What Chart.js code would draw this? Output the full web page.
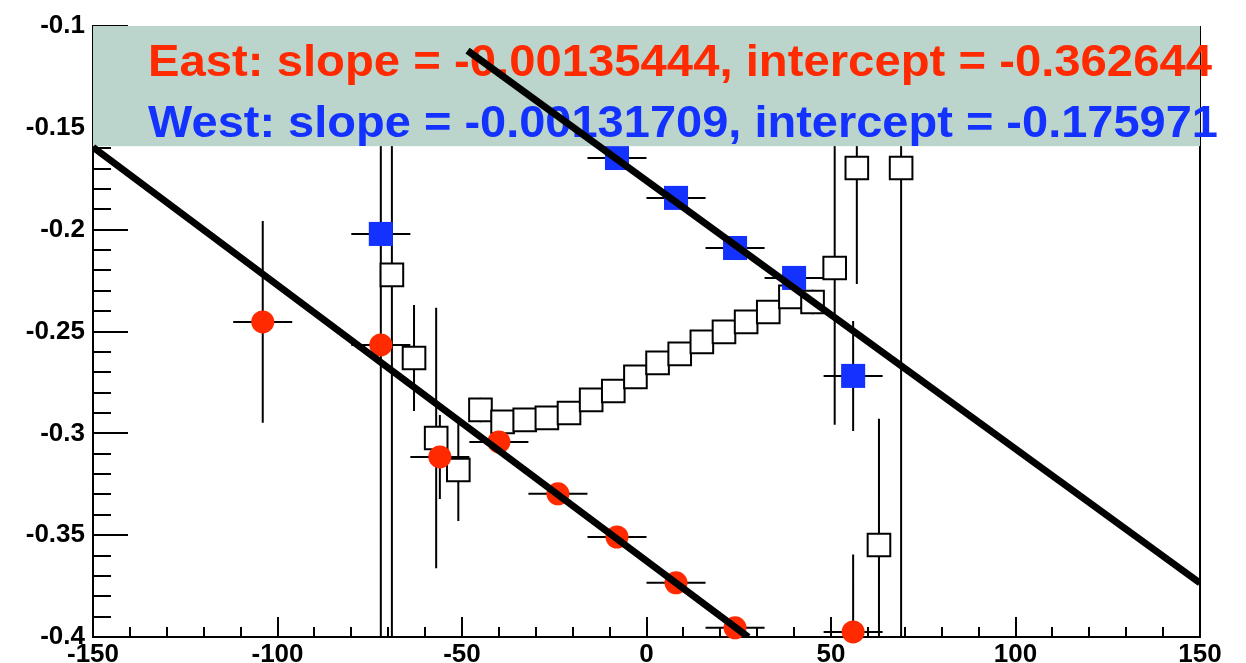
<!DOCTYPE html>
<html>
<head>
<meta charset="utf-8">
<script src="https://cdn.jsdelivr.net/npm/chart.js@4"></script>
<style>
html, body { margin: 0; padding: 0; background: #fff; }
</style>
</head>
<body>
<canvas id="chart" width="1246" height="663"></canvas>
<script>
// axis ticks
const xTicks = [-150, -100, -50, 0, 50, 100, 150];
const yTicks = [-0.4, -0.35, -0.3, -0.25, -0.2, -0.15, -0.1];

// East (red circles)
const eastX    = [-104, -72, -56, -40, -24, -8, 8, 24, 56];
const eastY    = [-0.2453, -0.2566, -0.3116, -0.3042, -0.3297, -0.3509, -0.3734, -0.3955, -0.3975];
const eastErrX = [8, 8, 8, 8, 8, 8, 8, 8, 8];
const eastErrY = [0.0495, 0.01, 0.0206, 0.004, 0.004, 0.004, 0.004, 0.004, 0.038];

// West (blue squares)
const westX    = [-72, -8, 8, 24, 40, 56];
const westY    = [-0.2021, -0.1648, -0.1844, -0.209, -0.2237, -0.2718];
const westErrX = [8, 8, 8, 8, 8, 8];
const westErrY = [0.3, 0.004, 0.004, 0.004, 0.004, 0.027];

// all (open squares)
const allX    = [-69, -63, -57, -51, -45, -39, -33, -27, -21, -15, -9, -3, 3, 9, 15, 21, 27, 33, 39, 45, 51, 57, 63, 69];
const allY    = [-0.2222, -0.263, -0.3023, -0.318, -0.2885, -0.2944, -0.2934, -0.2924, -0.29, -0.2836, -0.2792, -0.2723,
                 -0.2654, -0.261, -0.2551, -0.2502, -0.2453, -0.2404, -0.233, -0.2355, -0.2188, -0.1697, -0.3548, -0.1697];
const allErrY = [0.3, 0.026, 0.064, 0.025, 0.006, 0.004, 0.005, 0.005, 0.004, 0.004, 0.004, 0.004,
                 0.004, 0.004, 0.004, 0.004, 0.004, 0.004, 0.006, 0.006, 0.077, 0.057, 0.062, 0.3];

// fit lines (end points)
const eastFitX = [-150, 27.6];
const eastFitY = [-0.1595, -0.4];
const westFitX = [-48.5, 150];
const westFitY = [-0.1121, -0.3735];

const eastLabel = 'East: slope = -0.00135444, intercept = -0.362644';
const westLabel = 'West: slope = -0.00131709, intercept = -0.175971';

const RED = '#ff2a00';
const BLUE = '#1432ff';
const PAVE = '#bcd5cc';
const FONT = "'Liberation Sans', Arial, Helvetica, sans-serif";

const pts = (xs, ys) => xs.map((x, i) => ({ x: x, y: ys[i] }));

// error bars, inward ticks, right frame
const decor = {
    id: 'decor',
    beforeDatasetsDraw(chart) {
        const { ctx, chartArea: a, scales: { x, y } } = chart;
        ctx.save();
        ctx.strokeStyle = '#000';
        ctx.lineWidth = 2;

        // ticks
        ctx.beginPath();
        for (let v = -150; v <= 150; v += 10) {
            const px = Math.round(x.getPixelForValue(v));
            const len = v % 50 === 0 ? 20 : 10;
            ctx.moveTo(px, a.bottom); ctx.lineTo(px, a.bottom - len);
        }
        for (let k = 0; k <= 30; k++) {
            const py = Math.round(y.getPixelForValue(-0.4 + k * 0.01));
            const len = k % 5 === 0 ? 35 : 18;
            ctx.moveTo(a.left, py); ctx.lineTo(a.left + len, py);
        }
        ctx.moveTo(a.right, a.top); ctx.lineTo(a.right, a.bottom);
        ctx.stroke();

        // error bars
        ctx.beginPath();
        ctx.rect(a.left, a.top, a.right - a.left, a.bottom - a.top);
        ctx.clip();
        ctx.beginPath();
        const bars = (xs, ys, ex, ey) => xs.forEach((v, i) => {
            const px = x.getPixelForValue(v), py = y.getPixelForValue(ys[i]);
            if (ex) {
                ctx.moveTo(x.getPixelForValue(v - ex[i]), py);
                ctx.lineTo(x.getPixelForValue(v + ex[i]), py);
            }
            ctx.moveTo(px, y.getPixelForValue(ys[i] + ey[i]));
            ctx.lineTo(px, y.getPixelForValue(ys[i] - ey[i]));
        });
        bars(allX, allY, null, allErrY);
        bars(eastX, eastY, eastErrX, eastErrY);
        bars(westX, westY, westErrX, westErrY);
        ctx.stroke();
        ctx.restore();
    },
    beforeDatasetDraw(chart, args) {
        if (args.index !== 1) return;
        const { ctx, chartArea: a, scales: { y } } = chart;
        const top = y.getPixelForValue(-0.1), bottom = y.getPixelForValue(-0.159);
        ctx.save();
        ctx.fillStyle = PAVE;
        ctx.fillRect(a.left, top, a.right - a.left, bottom - top);
        ctx.font = 'bold 45px ' + FONT;
        ctx.textBaseline = 'alphabetic';
        const line = (txt, col, bx, by, w) => {
            const m = ctx.measureText(txt).width;
            ctx.save();
            ctx.translate(bx, by);
            ctx.scale(w / m, 1);
            ctx.fillStyle = col;
            ctx.fillText(txt, 0, 0);
            ctx.restore();
        };
        line(eastLabel, RED, a.left + 55, top + 50, 1064);
        line(westLabel, BLUE, a.left + 55, top + 111, 1070);
        ctx.restore();
    }
};

const tickFont = { family: FONT, size: 26, weight: 'bold' };

new Chart(document.getElementById('chart'), {
    type: 'scatter',
    data: {
        datasets: [
            { label: 'West fit', data: pts(westFitX, westFitY), showLine: true, borderColor: '#000', borderWidth: 7, pointRadius: 0 },
            { label: 'East fit', data: pts(eastFitX, eastFitY), showLine: true, borderColor: '#000', borderWidth: 7, pointRadius: 0 },
            { label: 'West', data: pts(westX, westY), pointStyle: 'rect', pointRadius: 17, backgroundColor: BLUE, borderWidth: 0, clip: false },
            { label: 'East', data: pts(eastX, eastY), pointStyle: 'circle', pointRadius: 11.5, backgroundColor: RED, borderWidth: 0, clip: false },
            { label: 'All', data: pts(allX, allY), pointStyle: 'rect', pointRadius: 16, backgroundColor: '#fff', borderColor: '#000', borderWidth: 2, clip: false }
        ]
    },
    options: {
        responsive: false,
        animation: false,
        layout: { padding: { top: 26, right: 46, left: 0, bottom: 0 } },
        plugins: { legend: { display: false }, tooltip: { enabled: false } },
        scales: {
            x: {
                type: 'linear', min: -150, max: 150,
                grid: { display: false, drawTicks: false },
                border: { display: true, color: '#000', width: 2 },
                afterBuildTicks: s => { s.ticks = xTicks.map(v => ({ value: v })); },
                afterFit: s => { s.height = 26; },
                ticks: { color: '#000', font: tickFont, padding: 2, autoSkip: false, maxRotation: 0, callback: v => String(v) }
            },
            y: {
                type: 'linear', min: -0.4, max: -0.1,
                grid: { display: false, drawTicks: false },
                border: { display: true, color: '#000', width: 2 },
                afterBuildTicks: s => { s.ticks = yTicks.map(v => ({ value: v })); },
                afterFit: s => { s.width = 93; },
                ticks: { color: '#000', font: tickFont, padding: 8, autoSkip: false, callback: v => String(v) }
            }
        }
    },
    plugins: [decor]
});
</script>
</body>
</html>
